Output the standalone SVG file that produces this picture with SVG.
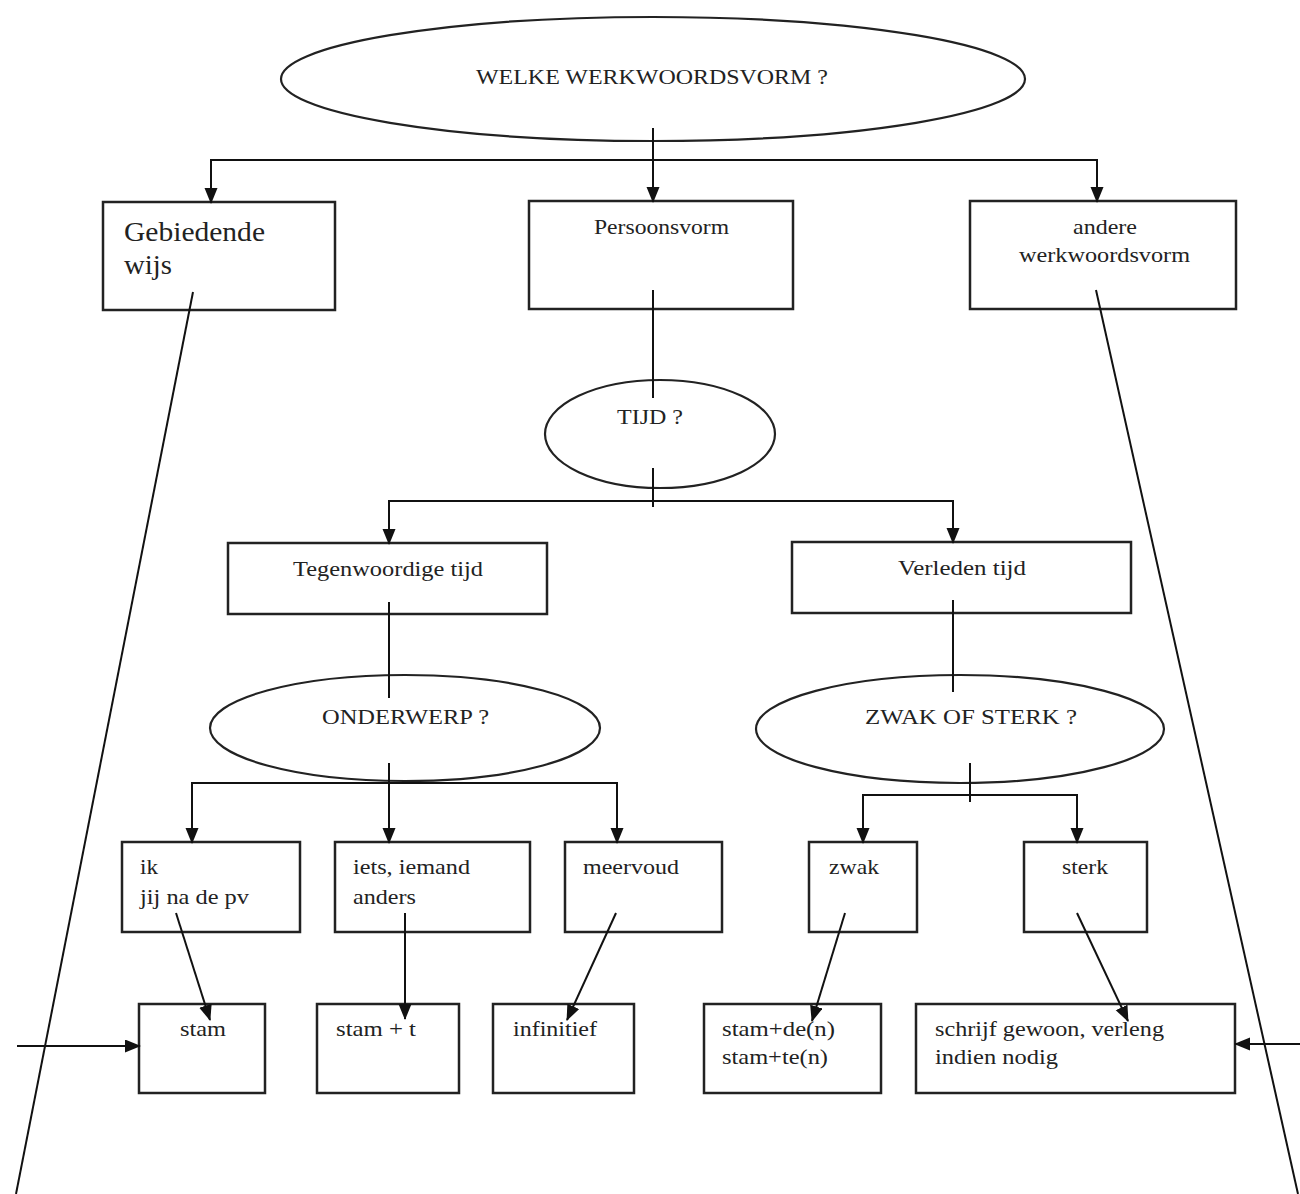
<svg xmlns="http://www.w3.org/2000/svg" width="1300" height="1194" viewBox="0 0 1300 1194">
<style>
.box{fill:#fff;stroke:#222;stroke-width:2.5}
.el{fill:#fff;stroke:#222;stroke-width:2.2}
.t{font-family:"Liberation Serif","Times New Roman",serif;font-size:22px;fill:#222}
.ln{stroke:#111;stroke-width:2;fill:none}
.ar{stroke:#111;stroke-width:2;fill:none;marker-end:url(#ah)}
</style>
<defs>
<marker id="ah" markerUnits="userSpaceOnUse" markerWidth="16" markerHeight="14" refX="15" refY="6.5" orient="auto">
<path d="M0,0 L16,6.5 L0,13 z" fill="#111"/>
</marker>
</defs>
<rect width="1300" height="1194" fill="#fff"/>

<g id="n-welke">
<ellipse class="el" cx="653" cy="79" rx="372" ry="62"/>
<text class="t" x="476" y="84" textLength="352" lengthAdjust="spacingAndGlyphs">WELKE WERKWOORDSVORM ?</text>
</g>
<g id="n-gebiedende">
<rect class="box" x="103" y="202" width="232" height="108"/>
<text class="t" x="124" y="241" style="font-size:28px" textLength="141" lengthAdjust="spacingAndGlyphs">Gebiedende</text>
<text class="t" x="124" y="274" style="font-size:28px" textLength="48" lengthAdjust="spacingAndGlyphs">wijs</text>
</g>
<g id="n-persoonsvorm">
<rect class="box" x="529" y="201" width="264" height="108"/>
<text class="t" x="594" y="234" textLength="135" lengthAdjust="spacingAndGlyphs">Persoonsvorm</text>
</g>
<g id="n-andere">
<rect class="box" x="970" y="201" width="266" height="108"/>
<text class="t" x="1073" y="234" textLength="64" lengthAdjust="spacingAndGlyphs">andere</text>
<text class="t" x="1019" y="262" textLength="171" lengthAdjust="spacingAndGlyphs">werkwoordsvorm</text>
</g>
<g id="n-tijd">
<ellipse class="el" cx="660" cy="434" rx="115" ry="54"/>
<text class="t" x="617" y="424" textLength="66" lengthAdjust="spacingAndGlyphs">TIJD ?</text>
</g>
<g id="n-tegenwoordig">
<rect class="box" x="228" y="543" width="319" height="71"/>
<text class="t" x="293" y="576" textLength="190" lengthAdjust="spacingAndGlyphs">Tegenwoordige tijd</text>
</g>
<g id="n-verleden">
<rect class="box" x="792" y="542" width="339" height="71"/>
<text class="t" x="898" y="575" textLength="128" lengthAdjust="spacingAndGlyphs">Verleden tijd</text>
</g>
<g id="n-onderwerp">
<ellipse class="el" cx="405" cy="728" rx="195" ry="53"/>
<text class="t" x="322" y="724" textLength="167" lengthAdjust="spacingAndGlyphs">ONDERWERP ?</text>
</g>
<g id="n-zwaksterk">
<ellipse class="el" cx="960" cy="729" rx="204" ry="54"/>
<text class="t" x="865" y="724" textLength="212" lengthAdjust="spacingAndGlyphs">ZWAK OF STERK ?</text>
</g>
<g id="n-ik">
<rect class="box" x="122" y="842" width="178" height="90"/>
<text class="t" x="140" y="874" textLength="18" lengthAdjust="spacingAndGlyphs">ik</text>
<text class="t" x="140" y="904" textLength="109" lengthAdjust="spacingAndGlyphs">jij na de pv</text>
</g>
<g id="n-iets">
<rect class="box" x="335" y="842" width="195" height="90"/>
<text class="t" x="353" y="874" textLength="117" lengthAdjust="spacingAndGlyphs">iets, iemand</text>
<text class="t" x="353" y="904" textLength="63" lengthAdjust="spacingAndGlyphs">anders</text>
</g>
<g id="n-meervoud">
<rect class="box" x="565" y="842" width="157" height="90"/>
<text class="t" x="583" y="874" textLength="96" lengthAdjust="spacingAndGlyphs">meervoud</text>
</g>
<g id="n-zwak">
<rect class="box" x="809" y="842" width="108" height="90"/>
<text class="t" x="829" y="874" textLength="50" lengthAdjust="spacingAndGlyphs">zwak</text>
</g>
<g id="n-sterk">
<rect class="box" x="1024" y="842" width="123" height="90"/>
<text class="t" x="1062" y="874" textLength="46" lengthAdjust="spacingAndGlyphs">sterk</text>
</g>
<g id="n-stam">
<rect class="box" x="139" y="1004" width="126" height="89"/>
<text class="t" x="180" y="1036" textLength="46" lengthAdjust="spacingAndGlyphs">stam</text>
</g>
<g id="n-stamt">
<rect class="box" x="317" y="1004" width="142" height="89"/>
<text class="t" x="336" y="1036" textLength="80" lengthAdjust="spacingAndGlyphs">stam + t</text>
</g>
<g id="n-infinitief">
<rect class="box" x="493" y="1004" width="141" height="89"/>
<text class="t" x="513" y="1036" textLength="84" lengthAdjust="spacingAndGlyphs">infinitief</text>
</g>
<g id="n-stamde">
<rect class="box" x="704" y="1004" width="177" height="89"/>
<text class="t" x="722" y="1036" textLength="113" lengthAdjust="spacingAndGlyphs">stam+de(n)</text>
<text class="t" x="722" y="1064" textLength="106" lengthAdjust="spacingAndGlyphs">stam+te(n)</text>
</g>
<g id="n-schrijf">
<rect class="box" x="916" y="1004" width="319" height="89"/>
<text class="t" x="935" y="1036" textLength="229" lengthAdjust="spacingAndGlyphs">schrijf gewoon, verleng</text>
<text class="t" x="935" y="1064" textLength="123" lengthAdjust="spacingAndGlyphs">indien nodig</text>
</g>

<g id="connectors">
<line class="ar" x1="653" y1="128" x2="653" y2="202"/>
<polyline class="ln" points="211,186 211,160 1097,160 1097,186"/>
<line class="ar" x1="211" y1="160" x2="211" y2="203"/>
<line class="ar" x1="1097" y1="160" x2="1097" y2="202"/>
<line class="ln" x1="653" y1="290" x2="653" y2="398"/>
<line class="ln" x1="653" y1="468" x2="653" y2="507"/>
<polyline class="ln" points="389,520 389,501 953,501 953,520"/>
<line class="ar" x1="389" y1="501" x2="389" y2="544"/>
<line class="ar" x1="953" y1="501" x2="953" y2="543"/>
<line class="ln" x1="389" y1="602" x2="389" y2="698"/>
<line class="ln" x1="953" y1="600" x2="953" y2="692"/>
<line class="ln" x1="389" y1="763" x2="389" y2="783"/>
<polyline class="ln" points="192,820 192,783 617,783 617,820"/>
<line class="ar" x1="192" y1="783" x2="192" y2="843"/>
<line class="ar" x1="389" y1="783" x2="389" y2="843"/>
<line class="ar" x1="617" y1="783" x2="617" y2="843"/>
<line class="ln" x1="970" y1="763" x2="970" y2="802"/>
<polyline class="ln" points="863,820 863,795 1077,795 1077,820"/>
<line class="ar" x1="863" y1="795" x2="863" y2="843"/>
<line class="ar" x1="1077" y1="795" x2="1077" y2="843"/>
<line class="ar" x1="176" y1="913" x2="210" y2="1020"/>
<line class="ar" x1="405" y1="913" x2="405" y2="1019"/>
<line class="ar" x1="616" y1="913" x2="567" y2="1020"/>
<line class="ar" x1="845" y1="913" x2="812" y2="1021"/>
<line class="ar" x1="1077" y1="913" x2="1128" y2="1021"/>
<line class="ln" x1="193" y1="292" x2="16" y2="1194"/>
<line class="ln" x1="1096" y1="290" x2="1298" y2="1194"/>
<line class="ar" x1="17" y1="1046" x2="140" y2="1046"/>
<line class="ar" x1="1300" y1="1044" x2="1235" y2="1044"/>
</g>
</svg>
